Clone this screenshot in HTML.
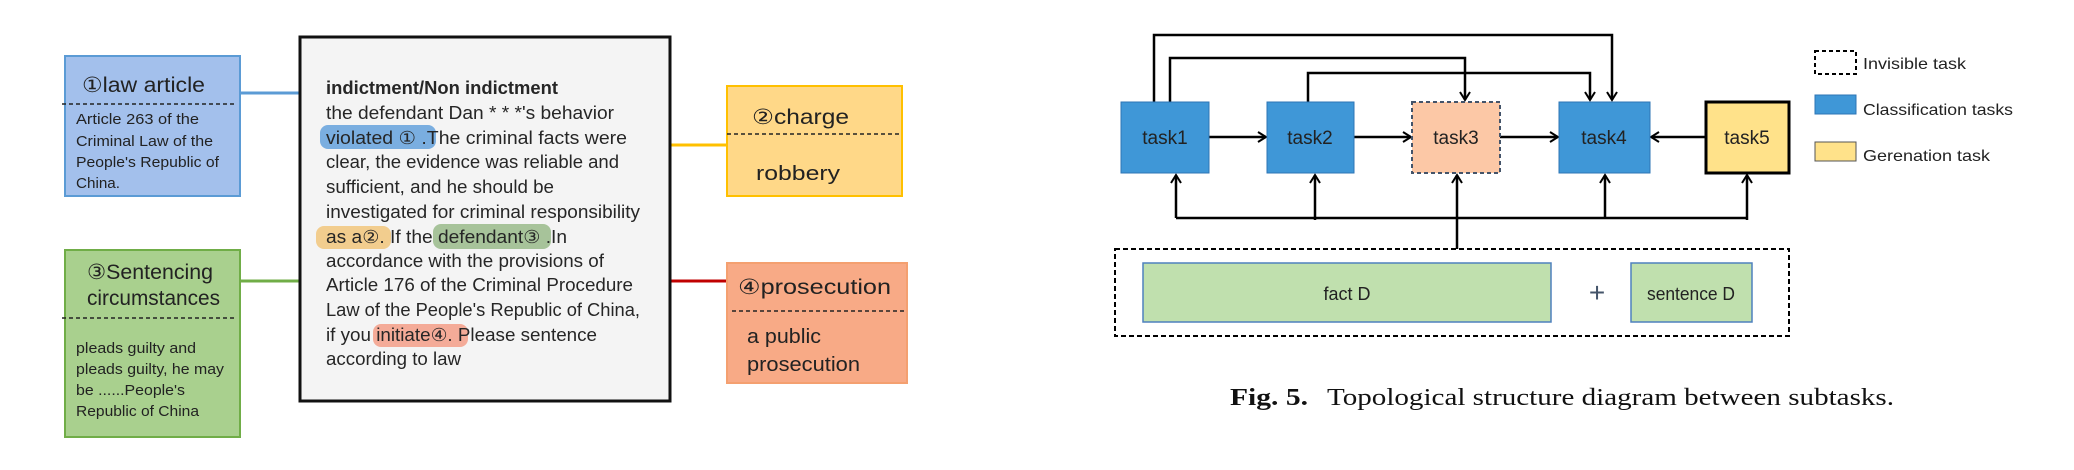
<!DOCTYPE html>
<html><head><meta charset="utf-8"><style>
html,body{margin:0;padding:0;background:#fff;}
svg{display:block;}
.s{font-family:"Liberation Sans",sans-serif;fill:#222;}
.c{font-family:"Liberation Sans",sans-serif;fill:#262626;font-size:18px;}
</style></head><body>
<svg width="2074" height="470" viewBox="0 0 2074 470" xmlns="http://www.w3.org/2000/svg">
<defs>
<marker id="ar" markerWidth="12" markerHeight="12" refX="10" refY="6" orient="auto" markerUnits="userSpaceOnUse">
<path d="M2,1 L10,6 L2,11" fill="none" stroke="#000" stroke-width="2"/>
</marker>
</defs>
<rect width="2074" height="470" fill="#fff"/>

<!-- LEFT FIGURE -->
<line x1="240" y1="93" x2="299" y2="93" stroke="#5b9bd5" stroke-width="3"/>
<line x1="240" y1="281" x2="299" y2="281" stroke="#70ad47" stroke-width="3"/>
<line x1="670" y1="145" x2="727" y2="145" stroke="#ffc000" stroke-width="3"/>
<line x1="670" y1="281" x2="727" y2="281" stroke="#c00000" stroke-width="3"/>

<!-- blue box -->
<rect x="65" y="56" width="175" height="140" fill="#a3c0ec" stroke="#5b9bd5" stroke-width="2"/>
<text class="s" x="82" y="92" font-size="21" textLength="123" lengthAdjust="spacingAndGlyphs">①law article</text>
<line x1="62" y1="104" x2="234" y2="104" stroke="#222" stroke-width="1.5" stroke-dasharray="4,3"/>
<g class="s" font-size="15">
<text x="76" y="124" textLength="123" lengthAdjust="spacingAndGlyphs">Article 263 of the</text>
<text x="76" y="146" textLength="137" lengthAdjust="spacingAndGlyphs">Criminal Law of the</text>
<text x="76" y="167" textLength="143" lengthAdjust="spacingAndGlyphs">People's Republic of</text>
<text x="76" y="188" textLength="44" lengthAdjust="spacingAndGlyphs">China.</text>
</g>

<!-- green box -->
<rect x="65" y="250" width="175" height="187" fill="#a9d08e" stroke="#70ad47" stroke-width="2"/>
<text class="s" x="87" y="279" font-size="21" textLength="126" lengthAdjust="spacingAndGlyphs">③Sentencing</text>
<text class="s" x="87" y="305" font-size="21" textLength="133" lengthAdjust="spacingAndGlyphs">circumstances</text>
<line x1="62" y1="318" x2="236" y2="318" stroke="#222" stroke-width="1.5" stroke-dasharray="4,3"/>
<g class="s" font-size="15">
<text x="76" y="353" textLength="120" lengthAdjust="spacingAndGlyphs">pleads guilty and</text>
<text x="76" y="374" textLength="148" lengthAdjust="spacingAndGlyphs">pleads guilty, he may</text>
<text x="76" y="395" textLength="109" lengthAdjust="spacingAndGlyphs">be ......People's</text>
<text x="76" y="416" textLength="123" lengthAdjust="spacingAndGlyphs">Republic of China</text>
</g>

<!-- yellow box -->
<rect x="727" y="86" width="175" height="110" fill="#ffd888" stroke="#ffc000" stroke-width="2"/>
<text class="s" x="752" y="124" font-size="21" textLength="97" lengthAdjust="spacingAndGlyphs">②charge</text>
<line x1="727" y1="134" x2="900" y2="134" stroke="#222" stroke-width="1.5" stroke-dasharray="4,3"/>
<text class="s" x="756" y="180" font-size="20" textLength="84" lengthAdjust="spacingAndGlyphs">robbery</text>

<!-- orange box -->
<rect x="727" y="263" width="180" height="120" fill="#f8aa86" stroke="#f4a070" stroke-width="2"/>
<text class="s" x="738" y="294" font-size="21" textLength="153" lengthAdjust="spacingAndGlyphs">④prosecution</text>
<line x1="732" y1="311" x2="905" y2="311" stroke="#222" stroke-width="1.5" stroke-dasharray="4,3"/>
<text class="s" x="747" y="343" font-size="20" textLength="74" lengthAdjust="spacingAndGlyphs">a public</text>
<text class="s" x="747" y="371" font-size="20" textLength="113" lengthAdjust="spacingAndGlyphs">prosecution</text>

<!-- center box -->
<rect x="300" y="37" width="370" height="364" fill="#f4f4f4" stroke="#111" stroke-width="3"/>
<rect x="320" y="125" width="116" height="24" rx="8" fill="#7aaee0"/>
<rect x="316" y="226" width="75" height="23" rx="8" fill="#f2cd8e"/>
<rect x="433" y="224" width="118" height="25" rx="8" fill="#a7c39a"/>
<rect x="373" y="324" width="95" height="23" rx="8" fill="#f4ab98"/>
<text class="c" x="326" y="94" font-weight="bold" textLength="232" lengthAdjust="spacingAndGlyphs">indictment/Non indictment</text>
<text class="c" x="326" y="119" textLength="288" lengthAdjust="spacingAndGlyphs">the defendant Dan * * *'s behavior</text>
<text class="c" x="326" y="144" textLength="301" lengthAdjust="spacingAndGlyphs">violated  ①  .The criminal facts were</text>
<text class="c" x="326" y="168" textLength="293" lengthAdjust="spacingAndGlyphs">clear, the evidence was reliable and</text>
<text class="c" x="326" y="193" textLength="228" lengthAdjust="spacingAndGlyphs">sufficient, and he should be</text>
<text class="c" x="326" y="218" textLength="314" lengthAdjust="spacingAndGlyphs">investigated for criminal responsibility</text>
<text class="c" x="326" y="243" textLength="241" lengthAdjust="spacingAndGlyphs">as a②. If the defendant③ .In</text>
<text class="c" x="326" y="267" textLength="278" lengthAdjust="spacingAndGlyphs">accordance with the provisions of</text>
<text class="c" x="326" y="291" textLength="307" lengthAdjust="spacingAndGlyphs">Article 176 of the Criminal Procedure</text>
<text class="c" x="326" y="316" textLength="314" lengthAdjust="spacingAndGlyphs">Law of the People's Republic of China,</text>
<text class="c" x="326" y="341" textLength="271" lengthAdjust="spacingAndGlyphs">if you initiate④. Please sentence</text>
<text class="c" x="326" y="365" textLength="135" lengthAdjust="spacingAndGlyphs">according to law</text>

<!-- RIGHT FIGURE -->
<g fill="none" stroke="#000" stroke-width="2.5">
<polyline points="1154,102 1154,35 1612,35 1612,100" marker-end="url(#ar)"/>
<polyline points="1170,102 1170,58 1465,58 1465,100" marker-end="url(#ar)"/>
<polyline points="1308,102 1308,73 1590,73 1590,100" marker-end="url(#ar)"/>
<line x1="1209" y1="137" x2="1266" y2="137" marker-end="url(#ar)"/>
<line x1="1354" y1="137" x2="1411" y2="137" marker-end="url(#ar)"/>
<line x1="1500" y1="137" x2="1558" y2="137" marker-end="url(#ar)"/>
<line x1="1705" y1="137" x2="1651" y2="137" marker-end="url(#ar)"/>
<line x1="1176" y1="218" x2="1747" y2="218"/>
<line x1="1176" y1="218" x2="1176" y2="175" marker-end="url(#ar)"/>
<line x1="1315" y1="220" x2="1315" y2="175" marker-end="url(#ar)"/>
<line x1="1457" y1="249" x2="1457" y2="175" marker-end="url(#ar)"/>
<line x1="1605" y1="218" x2="1605" y2="175" marker-end="url(#ar)"/>
<line x1="1747" y1="220" x2="1747" y2="175" marker-end="url(#ar)"/>
</g>
<rect x="1121" y="102" width="88" height="71" fill="#3f97d7" stroke="#2e75b6" stroke-width="1"/>
<rect x="1267" y="102" width="87" height="71" fill="#3f97d7" stroke="#2e75b6" stroke-width="1"/>
<rect x="1412" y="102" width="88" height="71" fill="#fcc8a6" stroke="#44546a" stroke-width="2" stroke-dasharray="4,3"/>
<rect x="1559" y="102" width="91" height="71" fill="#3f97d7" stroke="#2e75b6" stroke-width="1"/>
<rect x="1706" y="102" width="83" height="71" fill="#ffe28a" stroke="#000" stroke-width="3"/>
<g class="s" font-size="19" text-anchor="middle">
<text x="1165" y="144">task1</text>
<text x="1310" y="144">task2</text>
<text x="1456" y="144">task3</text>
<text x="1604" y="144">task4</text>
<text x="1747" y="144">task5</text>
</g>
<rect x="1115" y="249" width="674" height="87" fill="none" stroke="#000" stroke-width="2" stroke-dasharray="5,3"/>
<rect x="1143" y="263" width="408" height="59" fill="#c0e0ae" stroke="#4f81bd" stroke-width="1.5"/>
<rect x="1631" y="263" width="121" height="59" fill="#c0e0ae" stroke="#4f81bd" stroke-width="1.5"/>
<text class="s" x="1347" y="300" font-size="18" text-anchor="middle">fact D</text>
<text class="s" x="1691" y="300" font-size="18" text-anchor="middle" textLength="88" lengthAdjust="spacingAndGlyphs">sentence D</text>
<text x="1597" y="302" font-family="Liberation Sans,sans-serif" font-size="28" fill="#44546a" text-anchor="middle">+</text>

<!-- legend -->
<rect x="1815" y="51" width="41" height="23" fill="none" stroke="#000" stroke-width="2" stroke-dasharray="4,3"/>
<rect x="1815" y="95" width="41" height="19" fill="#3f97d7" stroke="#2e75b6"/>
<rect x="1815" y="142" width="41" height="19" fill="#ffe28a" stroke="#555"/>
<g class="s" font-size="16">
<text x="1863" y="69" textLength="103" lengthAdjust="spacingAndGlyphs">Invisible task</text>
<text x="1863" y="115" textLength="150" lengthAdjust="spacingAndGlyphs">Classification tasks</text>
<text x="1863" y="161" textLength="127" lengthAdjust="spacingAndGlyphs">Gerenation task</text>
</g>

<!-- caption -->
<text x="1230" y="405" font-family="Liberation Serif,serif" font-size="24" font-weight="bold" fill="#111" textLength="78" lengthAdjust="spacingAndGlyphs">Fig. 5.</text>
<text x="1327" y="405" font-family="Liberation Serif,serif" font-size="24" fill="#111" textLength="567" lengthAdjust="spacingAndGlyphs">Topological structure diagram between subtasks.</text>
</svg>
</body></html>
